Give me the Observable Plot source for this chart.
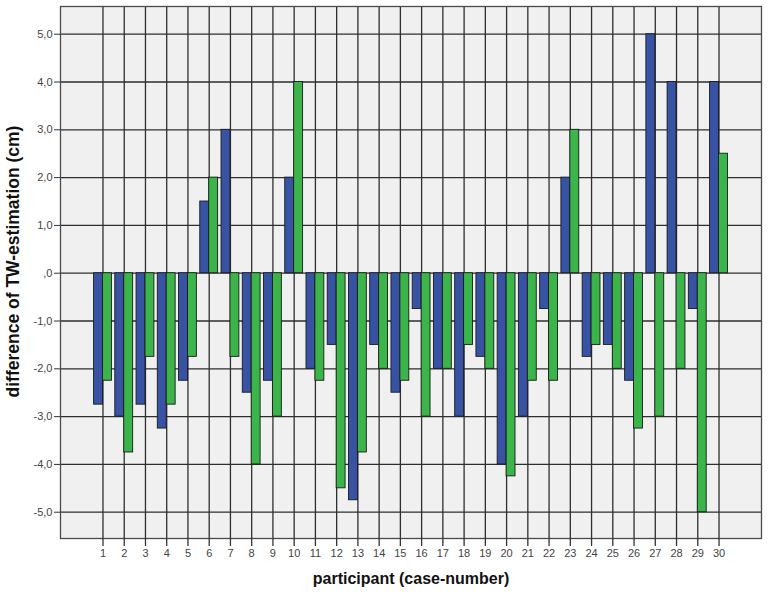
<!DOCTYPE html>
<html>
<head>
<meta charset="utf-8">
<script src="https://cdn.jsdelivr.net/npm/d3@7"></script>
<script src="https://cdn.jsdelivr.net/npm/@observablehq/plot@0.6"></script>
<style>
  html, body { margin: 0; padding: 0; background: #ffffff; }
  #chart { width: 768px; height: 594px; }
</style>
</head>
<body>
<div id="chart"></div>
<script>
// ---- data ----
const participants = [1,2,3,4,5,6,7,8,9,10,11,12,13,14,15,16,17,18,19,20,21,22,23,24,25,26,27,28,29,30];
const seriesA = [-2.75,-3.0,-2.75,-3.25,-2.25,1.5,3.0,-2.5,-2.25,2.0,-2.0,-1.5,-4.75,-1.5,-2.5,-0.75,-2.0,-3.0,-1.75,-4.0,-3.0,-0.75,2.0,-1.75,-1.5,-2.25,5.0,4.0,-0.75,4.0];
const seriesB = [-2.25,-3.75,-1.75,-2.75,-1.75,2.0,-1.75,-4.0,-3.0,4.0,-2.25,-4.5,-3.75,-2.0,-2.25,-3.0,-2.0,-1.5,-2.0,-4.25,-2.25,-2.25,3.0,-1.5,-2.0,-3.25,-3.0,-2.0,-5.0,2.5];
const seriesNames = ["A", "B"];
const yTicks = [-5,-4,-3,-2,-1,0,1,2,3,4,5];
const xLabel = "participant (case-number)";
const yLabel = "difference of TW-estimation (cm)";

const rows = participants.flatMap((p, i) => [
  {p, series: seriesNames[0], value: seriesA[i]},
  {p, series: seriesNames[1], value: seriesB[i]}
]);

const barW = 0.42;
const fmt = d => d === 0 ? ",0" : d.toFixed(1).replace(".", ",");

const chart = Plot.plot({
  width: 768,
  height: 594,
  marginLeft: 60,
  marginRight: 7,
  marginTop: 6,
  marginBottom: 56,
  style: {fontFamily: "'Liberation Sans', Arial, sans-serif", fontSize: "11px", background: "#ffffff"},
  x: {type: "linear", domain: [-1, 32], axis: null},
  y: {domain: [-5.55, 5.58], axis: null},
  color: {domain: seriesNames, range: ["#3953a4", "#3bb44a"]},
  marks: [
    Plot.frame({fill: "#f0f0f0", stroke: "none"}),
    Plot.ruleY(yTicks, {y: d => d, stroke: "#2e2e2e", strokeWidth: 1.3}),
    Plot.ruleX(participants, {x: d => d, stroke: "#2e2e2e", strokeWidth: 1.3}),
    Plot.rect(rows, {
      x1: d => d.series === seriesNames[0] ? d.p - barW : d.p,
      x2: d => d.series === seriesNames[0] ? d.p : d.p + barW,
      y1: 0,
      y2: "value",
      fill: "series",
      stroke: "#1a1a1a",
      strokeWidth: 0.9
    }),
    Plot.frame({stroke: "#4a4a4a", strokeWidth: 1.3}),
    Plot.axisY(yTicks, {tickFormat: fmt, tickSize: 6, tickPadding: 2, label: null, color: "#444", stroke: "#333", fontSize: 11}),
    Plot.axisX(participants, {tickSize: 8, tickPadding: 3, label: null, color: "#444", stroke: "#333", strokeWidth: 1.3, fontSize: 11}),
    Plot.text([xLabel], {text: d => d, frameAnchor: "bottom", lineAnchor: "middle", textAnchor: "middle", dy: 40, fontWeight: "bold", fontSize: 16, fill: "#111"}),
    Plot.text([yLabel], {text: d => d, frameAnchor: "left", lineAnchor: "middle", textAnchor: "middle", dx: -47, dy: -11, rotate: -90, fontWeight: "bold", fontSize: 17.5, fill: "#111"})
  ]
});

document.getElementById("chart").appendChild(chart);
</script>
</body>
</html>
